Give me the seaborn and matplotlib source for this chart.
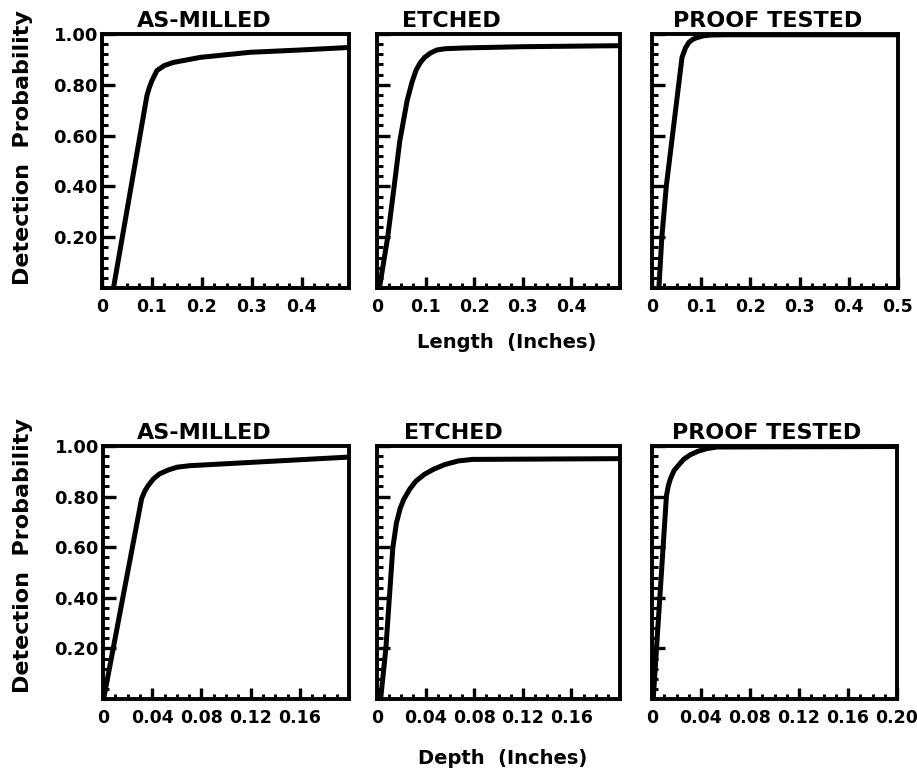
import matplotlib
matplotlib.use("Agg")
import matplotlib.pyplot as plt
from matplotlib.ticker import MultipleLocator
import seaborn as sns
import pandas as pd

# Panel titles
conditions = ["AS-MILLED", "ETCHED", "PROOF TESTED"]

# Detection probability vs. crack length (inches)
len_milled_x = [0.023, 0.090, 0.095, 0.100, 0.110, 0.125, 0.143, 0.170, 0.197, 0.297, 0.397, 0.495]
len_milled_y = [0.000, 0.757, 0.790, 0.816, 0.856, 0.876, 0.888, 0.898, 0.908, 0.928, 0.937, 0.947]
len_etched_x = [0.005, 0.022, 0.035, 0.047, 0.062, 0.072, 0.080, 0.089, 0.098, 0.110, 0.123, 0.140, 0.178, 0.300, 0.500]
len_etched_y = [0.000, 0.200, 0.396, 0.580, 0.738, 0.810, 0.856, 0.887, 0.908, 0.925, 0.937, 0.942, 0.945, 0.950, 0.954]
len_proof_x = [0.014, 0.020, 0.029, 0.061, 0.068, 0.075, 0.082, 0.090, 0.105, 0.120, 0.153, 0.300, 0.500]
len_proof_y = [0.000, 0.200, 0.400, 0.908, 0.945, 0.967, 0.978, 0.985, 0.993, 0.996, 0.997, 0.997, 0.997]

# Detection probability vs. crack depth (inches)
dep_milled_x = [0.0005, 0.0314, 0.0340, 0.0368, 0.041, 0.046, 0.053, 0.060, 0.070, 0.199]
dep_milled_y = [0.000, 0.792, 0.822, 0.844, 0.870, 0.890, 0.905, 0.916, 0.922, 0.956]
dep_etched_x = [0.003, 0.0073, 0.013, 0.016, 0.019, 0.022, 0.027, 0.032, 0.039, 0.0465, 0.056, 0.067, 0.0785, 0.200]
dep_etched_y = [0.000, 0.200, 0.597, 0.696, 0.752, 0.789, 0.830, 0.861, 0.888, 0.908, 0.927, 0.941, 0.947, 0.950]
dep_proof_x = [0.001, 0.0118, 0.0133, 0.015, 0.018, 0.022, 0.026, 0.0315, 0.038, 0.045, 0.053, 0.200]
dep_proof_y = [0.000, 0.804, 0.842, 0.870, 0.903, 0.926, 0.948, 0.966, 0.980, 0.990, 0.996, 0.998]

# Tick values and labels
prob_ticks = [0.2, 0.4, 0.6, 0.8, 1.0]
prob_labels = ["0.20", "0.40", "0.60", "0.80", "1.00"]
len_ticks = [0, 0.1, 0.2, 0.3, 0.4, 0.5]
len_labels = ["0", "0.1", "0.2", "0.3", "0.4", "0.5"]
dep_ticks = [0, 0.04, 0.08, 0.12, 0.16, 0.20]
dep_labels = ["0", "0.04", "0.08", "0.12", "0.16", "0.20"]

sns.set_theme(style="ticks")
plt.rcParams["font.family"] = ["DejaVu Sans"]
plt.rcParams["font.weight"] = "bold"
plt.rcParams["text.color"] = "black"
plt.rcParams["axes.labelcolor"] = "black"
plt.rcParams["xtick.color"] = "black"
plt.rcParams["ytick.color"] = "black"
plt.rcParams["xtick.labelcolor"] = "black"
plt.rcParams["ytick.labelcolor"] = "black"

W, H = 917, 772
fig = plt.figure(figsize=(W / 100, H / 100), dpi=100)
fig.patch.set_facecolor("white")


def rect(x0, x1, y0, y1):
    return [x0 / W, 1 - y1 / H, (x1 - x0) / W, (y1 - y0) / H]


top_boxes = [(102, 349), (377, 620), (652, 898)]
bot_boxes = [(103, 349), (377, 620), (652, 897)]
top_y = (34, 288)
bot_y = (446, 699)

length_curves = [(len_milled_x, len_milled_y), (len_etched_x, len_etched_y), (len_proof_x, len_proof_y)]
depth_curves = [(dep_milled_x, dep_milled_y), (dep_etched_x, dep_etched_y), (dep_proof_x, dep_proof_y)]

top_title_cx = [204, 451, 768]
bot_title_cx = [204, 453, 767]


def style_axes(ax, xmax, xt, xl, xminor, show_y, n_xlabels):
    ax.set_xlim(0, xmax)
    ax.set_ylim(0, 1.0)
    ax.set_facecolor("white")
    for s in ax.spines.values():
        s.set_visible(True)
        s.set_linewidth(2.8)
        s.set_color("black")
    ax.set_xticks(xt[:n_xlabels])
    ax.set_xticklabels(xl[:n_xlabels])
    ax.xaxis.set_minor_locator(MultipleLocator(xminor))
    ax.set_yticks(prob_ticks)
    ax.yaxis.set_minor_locator(MultipleLocator(0.04))
    if show_y:
        ax.set_yticklabels(prob_labels)
    else:
        ax.set_yticklabels([])
    ax.tick_params(axis="both", which="both", direction="in", color="black",
                   labelcolor="black", top=False, right=False)
    ax.tick_params(axis="y", which="major", length=9, width=2.4, pad=3,
                   labelsize=13)
    ax.tick_params(axis="y", which="minor", length=4.5, width=2.2)
    ax.tick_params(axis="x", which="major", length=8, width=2.4, pad=7,
                   labelsize=12.5)
    ax.tick_params(axis="x", which="minor", length=3.5, width=2.2)
    for lab in ax.get_xticklabels() + ax.get_yticklabels():
        lab.set_fontweight("bold")
    ax.set_xlabel("")
    ax.set_ylabel("")


for row, (boxes, (y0, y1), curves, title_cx) in enumerate([
        (top_boxes, top_y, length_curves, top_title_cx),
        (bot_boxes, bot_y, depth_curves, bot_title_cx)]):
    for col in range(3):
        x0, x1 = boxes[col]
        ax = fig.add_axes(rect(x0, x1, y0, y1))
        cx, cy = curves[col]
        df = pd.DataFrame({"x": cx, "p": cy})
        sns.lineplot(data=df, x="x", y="p", ax=ax, color="black", lw=3.6,
                     sort=False, estimator=None)
        for ln in ax.get_lines():
            ln.set_solid_joinstyle("round")
            ln.set_solid_capstyle("round")
        nlab = 6 if col == 2 else 5
        if row == 0:
            xmax = 0.495 if col == 0 else 0.5
            style_axes(ax, xmax, len_ticks, len_labels, 0.025, col == 0, nlab)
        else:
            style_axes(ax, 0.2, dep_ticks, dep_labels, 0.01, col == 0, nlab)
        fig.text(title_cx[col] / W, 1 - (y0 - 7) / H, conditions[col],
                 ha="center", va="baseline", fontsize=16, fontweight="bold",
                 color="black")

# Shared axis labels
for cy in (148, 556):
    fig.text(23 / W, 1 - cy / H, "Detection  Probability", rotation=90,
             ha="center", va="center", fontsize=16, fontweight="bold",
             color="black")
fig.text(507 / W, 1 - 343 / H, "Length  (Inches)", ha="center", va="center",
         fontsize=14, fontweight="bold", color="black")
fig.text(503 / W, 1 - 758 / H, "Depth  (Inches)", ha="center", va="center",
         fontsize=14, fontweight="bold", color="black")

fig.savefig("out.png", dpi=100, facecolor="white")
